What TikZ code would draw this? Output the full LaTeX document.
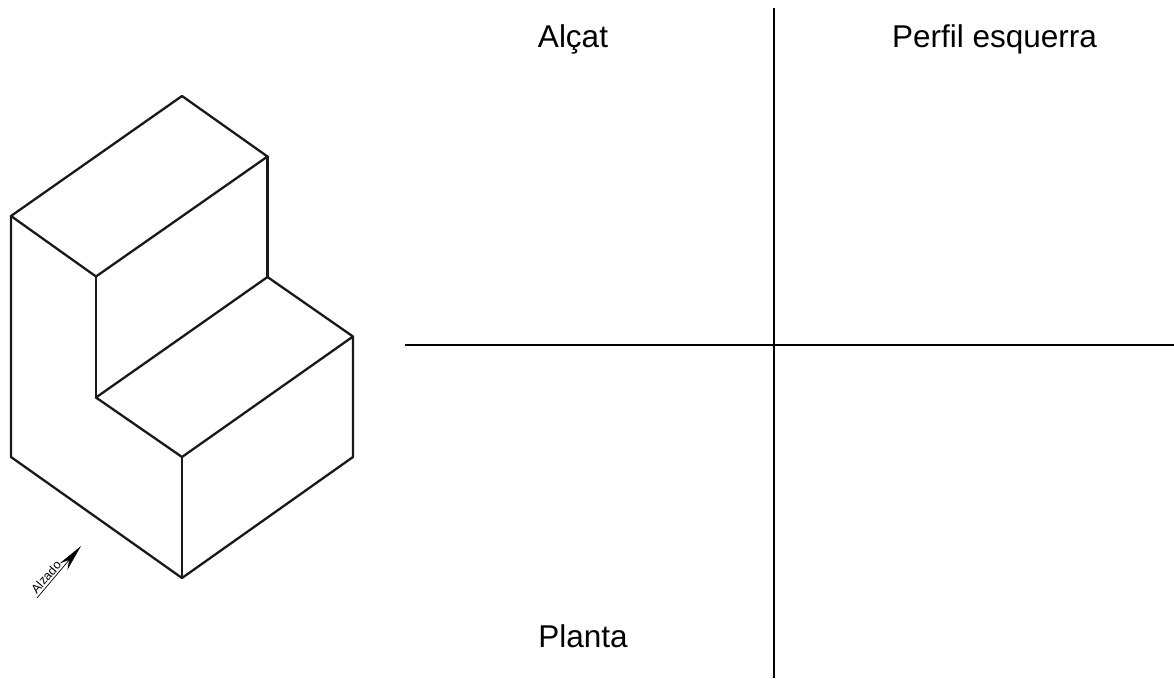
\documentclass[tikz,border=0pt]{standalone}
\usepackage{fontspec}
\setmainfont{Liberation Sans}
\usetikzlibrary{calc, arrows.meta}
\tikzset{
  >=stealth,
  % Edge of the solid
  edge/.style={line width=2.3pt, line cap=round, line join=round, color=black!90},
  % Dividing lines
  axis/.style={line width=2pt},
  % View captions
  view/.style={font=\fontsize{31.5}{36}\selectfont, inner sep=0pt, anchor=base},
  % Direction of the front view
  dirarrow/.style={-{Stealth[length=27pt, width=10pt]}, line width=0.7pt},
}
\begin{document}
\begin{tikzpicture}[x=1pt, y=-1pt]
  \useasboundingbox (0,0) rectangle (1174,678);

  \coordinate (a) at (182,96);
  \coordinate (b) at (267.5,156.5);
  \coordinate (c) at (11,216);
  \coordinate (d) at (96,276.5);
  \coordinate (e) at (267.5,277);
  \coordinate (f) at (353,336.5);
  \coordinate (g) at (96,397.5);
  \coordinate (h) at (182,457);
  \coordinate (i) at (11,457);
  \coordinate (j) at (353,457);
  \coordinate (k) at (182,578);

  \draw[edge] (a) -- (b) -- (d) -- (c) -- (a);
  \draw[edge] (c) -- (i) -- (k) -- (j) -- (f) -- (h) -- (g) -- (e) -- (f);
  \draw[edge] (d) -- (g);
  \draw[edge] (b) -- (e);
  \draw[edge] (h) -- (k);

  \coordinate (tail) at (37,598);
  \coordinate (tip) at (81,546);
  \draw[dirarrow] (tail) -- (tip);
  \node[font=\fontsize{12.5}{14}\selectfont, inner sep=0pt, rotate=49] (alzado) at (46,577) {Alzado};

  \coordinate (top) at (774,8);
  \coordinate (bottom) at (774,678);
  \coordinate (left) at (405,344.7);
  \coordinate (right) at (1174,344.7);
  \draw[axis] (top) -- (bottom);
  \draw[axis] (left) -- (right);

  \node[view] (alcat) at (573,47) {Alçat};
  \node[view] (perfil) at (994.5,47.5) {Perfil esquerra};
  \node[view] (planta) at (583,647) {Planta};
\end{tikzpicture}
\end{document}
